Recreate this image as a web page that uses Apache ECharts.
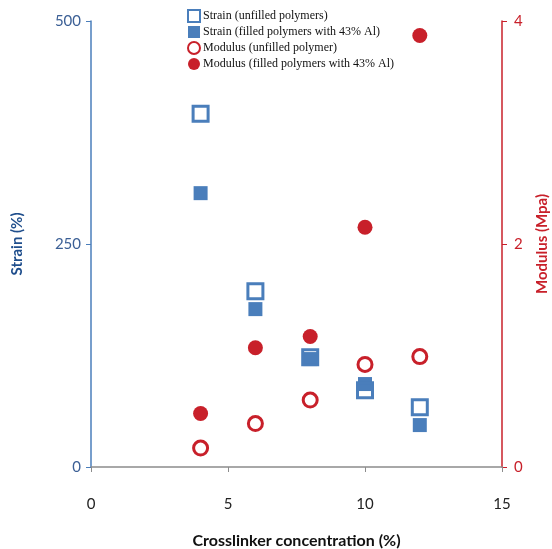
<!DOCTYPE html>
<html>
<head>
<meta charset="utf-8">
<script src="https://cdn.jsdelivr.net/npm/echarts@6/dist/echarts.min.js"></script>
<style>
  html, body { margin: 0; padding: 0; background: #fff; }
  #chart { width: 552px; height: 549px; }
</style>
</head>
<body>
<div id="chart"></div>
<script>
  // crosslinker concentration (%)
  const crosslinker = [4, 6, 8, 10, 12];
  // strain (%)
  const strainUnfilled = [396, 197, 123, 86, 67];
  const strainFilled = [307, 177, 121, 93, 47];
  // modulus (Mpa)
  const modulusUnfilled = [0.17, 0.39, 0.6, 0.92, 0.99];
  const modulusFilled = [0.48, 1.07, 1.17, 2.15, 3.87];

  const names = [
    'Strain (unfilled polymers)',
    'Strain (filled polymers with 43% Al)',
    'Modulus (unfilled polymer)',
    'Modulus (filled polymers with 43% Al)'
  ];

  const blue = '#4a7ebb';
  const red = '#c8202a';

  function pairs(ys) {
    return crosslinker.map((x, i) => [x, ys[i]]);
  }

  let myChart = echarts.init(document.getElementById('chart'));
  myChart.setOption({
    animation: false,
    grid: { left: 91, right: 50, top: 21, bottom: 82, containLabel: false, outerBoundsMode: 'none' },
    legend: {
      orient: 'vertical',
      left: 182,
      top: 4,
      itemWidth: 12,
      itemHeight: 12,
      itemGap: 3,
      data: names,
      textStyle: { fontFamily: 'Liberation Serif', fontSize: 12, color: '#111', padding: [0, 0, 0, -2] }
    },
    xAxis: {
      type: 'value',
      min: 0, max: 15, interval: 5,
      name: 'Crosslinker concentration (%)',
      nameLocation: 'middle',
      nameGap: 66,
      nameTextStyle: { fontFamily: 'Lato', fontWeight: 'bold', fontSize: 16, color: '#111' },
      axisLine: { show: true, lineStyle: { color: '#8c8c8c', width: 1.5 } },
      axisTick: { show: true, length: 5, lineStyle: { color: '#8c8c8c' } },
      axisLabel: { margin: 30, fontFamily: 'Lato', fontSize: 15, color: '#222' },
      splitLine: { show: false }
    },
    yAxis: [
      {
        type: 'value',
        min: 0, max: 500, interval: 250,
        name: 'Strain (%)',
        nameLocation: 'middle',
        nameGap: 66,
        nameTextStyle: { fontFamily: 'Lato', fontWeight: 'bold', fontSize: 15, color: '#1f4e8c' },
        axisLine: { show: true, lineStyle: { color: blue, width: 1.5 } },
        axisTick: { show: true, length: 5, lineStyle: { color: blue } },
        axisLabel: { margin: 10, fontFamily: 'Lato', fontSize: 15, color: '#3b5f95' },
        splitLine: { show: false }
      },
      {
        type: 'value',
        min: 0, max: 4, interval: 2,
        position: 'right',
        name: 'Modulus (Mpa)',
        nameLocation: 'middle',
        nameGap: 33,
        nameTextStyle: { fontFamily: 'Lato', fontWeight: 'bold', fontSize: 15, color: red },
        axisLine: { show: true, lineStyle: { color: red, width: 1.5 } },
        axisTick: { show: true, length: 5, lineStyle: { color: red } },
        axisLabel: { margin: 12, fontFamily: 'Lato', fontSize: 15, color: red },
        splitLine: { show: false }
      }
    ],
    series: [
      {
        name: names[1],
        type: 'scatter',
        yAxisIndex: 0,
        symbol: 'rect',
        symbolSize: 14,
        itemStyle: { color: blue, opacity: 1 },
        data: pairs(strainFilled)
      },
      {
        name: names[0],
        type: 'scatter',
        yAxisIndex: 0,
        symbol: 'rect',
        symbolSize: 15,
        itemStyle: { color: 'transparent', borderColor: blue, borderWidth: 3, opacity: 1 },
        data: pairs(strainUnfilled)
      },
      {
        name: names[2],
        type: 'scatter',
        yAxisIndex: 1,
        symbol: 'circle',
        symbolSize: 14,
        itemStyle: { color: '#fff', borderColor: red, borderWidth: 3, opacity: 1 },
        data: pairs(modulusUnfilled)
      },
      {
        name: names[3],
        type: 'scatter',
        yAxisIndex: 1,
        symbol: 'circle',
        symbolSize: 15,
        itemStyle: { color: red, opacity: 1 },
        data: pairs(modulusFilled)
      }
    ]
  });
</script>
</body>
</html>
